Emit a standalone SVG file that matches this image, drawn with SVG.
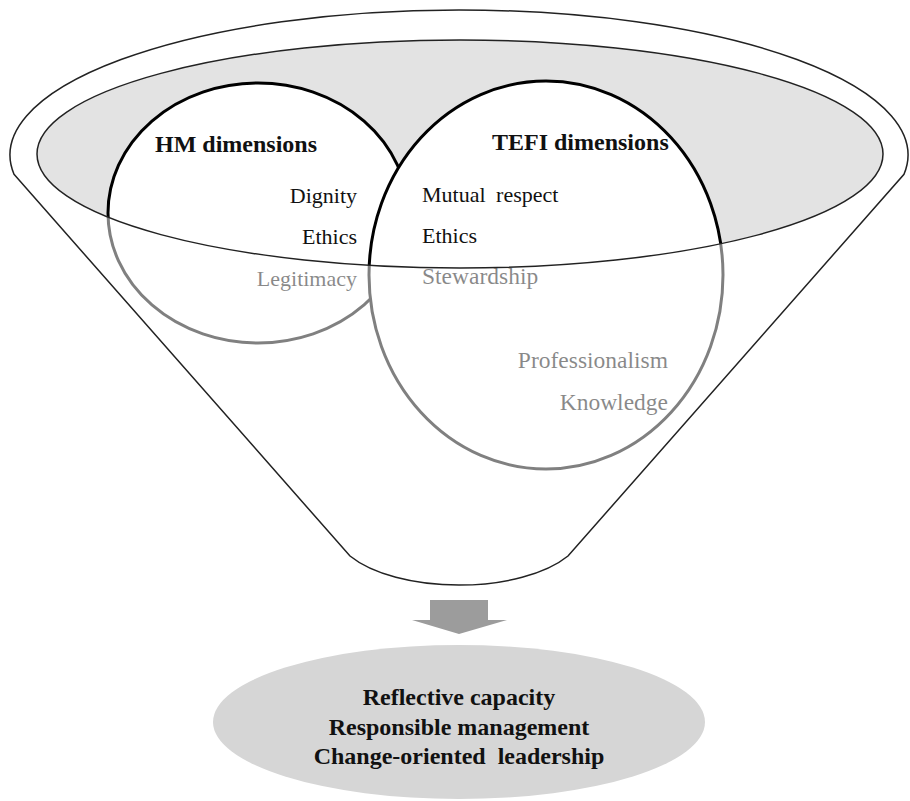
<svg xmlns="http://www.w3.org/2000/svg" width="910" height="801" viewBox="0 0 910 801">
<style>
.t{font-family:"Liberation Serif","Times New Roman",serif;font-size:22px;fill:#111}
.t2{font-family:"Liberation Serif","Times New Roman",serif;font-size:23.5px;fill:#111}
.b{font-family:"Liberation Serif","Times New Roman",serif;font-size:24px;font-weight:bold;fill:#111}
.c{fill:#fff;stroke:#000;stroke-width:3}
.ln{fill:none;stroke:#222;stroke-width:1.5}
</style>
<rect width="910" height="801" fill="#fff"/>
<g id="funnel">
<path d="M 14 174.3 L 350 556 A 125 57 0 0 0 568 556 L 904 174.3 A 449 145 0 1 0 14 174.3 Z" fill="#fff"/>
<ellipse cx="460" cy="154" rx="423" ry="114" fill="#e3e3e3"/>
</g>
<g id="hm-dimensions">
<ellipse class="c" cx="258" cy="213" rx="150" ry="130"/>
<text class="b" x="155" y="152">HM dimensions</text>
<text class="t" x="357" y="203" text-anchor="end">Dignity</text>
<text class="t" x="357" y="244" text-anchor="end">Ethics</text>
<text class="t" x="357" y="286" text-anchor="end">Legitimacy</text>
</g>
<g id="tefi-dimensions">
<ellipse class="c" cx="546" cy="275" rx="177" ry="194"/>
<text class="b" x="492" y="150">TEFI dimensions</text>
<text class="t" x="422" y="202" font-size="23" word-spacing="5">Mutual respect</text>
<text class="t" x="422" y="243">Ethics</text>
<text class="t2" x="422" y="284">Stewardship</text>
<text class="t2" x="668" y="368" text-anchor="end">Professionalism</text>
<text class="t2" x="668" y="410" text-anchor="end">Knowledge</text>
</g>
<g id="funnel-front">
<path d="M 14 174.3 L 350 556 A 125 57 0 0 0 568 556 L 904 174.3 A 449 145 0 1 0 14 174.3 Z M 37 154 A 423 114 0 1 0 883 154 A 423 114 0 1 0 37 154 Z" fill="#fff" fill-opacity="0.5" fill-rule="evenodd"/>
<ellipse class="ln" cx="460" cy="154" rx="423" ry="114"/>
<path class="ln" d="M 14 174.3 L 350 556 A 125 57 0 0 0 568 556 L 904 174.3 A 449 145 0 1 0 14 174.3 Z"/>
</g>
<g id="connectors">
<polygon points="430,600 488,600 488,620 507,620 459,634 412,620 430,620" fill="#9c9c9c"/>
</g>
<g id="outcome">
<ellipse cx="459" cy="722" rx="246" ry="77" fill="#d6d6d6"/>
<text class="b" x="459" y="705" text-anchor="middle">Reflective capacity</text>
<text class="b" x="459" y="735" text-anchor="middle">Responsible management</text>
<text class="b" x="459" y="764" text-anchor="middle" word-spacing="6">Change-oriented leadership</text>
</g>
</svg>
